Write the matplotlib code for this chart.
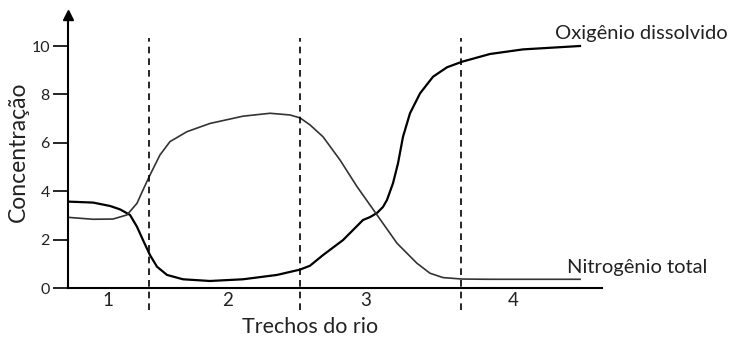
import matplotlib.pyplot as plt

plt.rcParams['font.family'] = ['Lato', 'DejaVu Sans']

# distance along the river (arbitrary units, 0 = start of reach 1)
oxi_x = [0, 25, 42, 52, 62, 69, 75, 82, 89, 99, 115, 142, 175, 209, 232, 242, 255, 275,
         295, 302, 309, 315, 319, 325, 330, 335, 342, 352, 365, 379, 394, 422, 455, 512]
oxi_y = [3.57, 3.53, 3.39, 3.25, 3.02, 2.53, 1.98, 1.36, 0.88, 0.54, 0.36, 0.29, 0.36, 0.54,
         0.76, 0.92, 1.36, 1.98, 2.81, 2.93, 3.1, 3.35, 3.64, 4.33, 5.15, 6.25, 7.22, 8.04,
         8.73, 9.12, 9.35, 9.67, 9.86, 10.0]

nit_x = [0, 25, 45, 59, 69, 75, 82, 92, 102, 119, 142, 175, 202, 222, 232, 242, 255, 272,
         289, 309, 329, 349, 362, 375, 394, 422, 512]
nit_y = [2.92, 2.84, 2.85, 3.02, 3.5, 4.05, 4.67, 5.5, 6.05, 6.46, 6.8, 7.1, 7.22, 7.15, 7.03,
         6.74, 6.25, 5.29, 4.19, 3.02, 1.85, 1.02, 0.61, 0.43, 0.37, 0.36, 0.36]

limites = [81, 232, 393]
trechos = ['1', '2', '3', '4']
trecho_x = [40, 160, 298, 445]
yticks = [0, 2, 4, 6, 8, 10]

fig = plt.figure(figsize=(7.31, 3.38), dpi=100)
ax = fig.add_axes([68 / 731, 50 / 338, 534 / 731, 273 / 338])
ax.set_xlim(0, 534)
ax.set_ylim(0, 273 / 24.2)

ax.plot(oxi_x, oxi_y, color='black', lw=1.6, solid_joinstyle='round')
ax.plot(nit_x, nit_y, color='#333333', lw=1.2, solid_joinstyle='round')

for xv in limites:
    ax.plot([xv, xv], [-0.91, 10.33], color='black', lw=1.2, ls=(0, (4, 3)), clip_on=False)

for s in ['top', 'right']:
    ax.spines[s].set_visible(False)
for s in ['left', 'bottom']:
    ax.spines[s].set_linewidth(1.5)

ax.set_yticks(yticks)
ax.set_yticklabels([str(v) for v in yticks], fontsize=11.5, color='#222222')
ax.tick_params(axis='y', length=11, width=1.2, pad=2)
ax.set_xticks([])

# arrow on top of the y axis
ax.plot([0], [1], marker='^', color='black', markersize=7, transform=ax.transAxes, clip_on=False)

for t, xv in zip(trechos, trecho_x):
    ax.text(xv, -0.5, t, ha='center', va='center', fontsize=13.5, color='#222222')

ax.text(242, -1.6, 'Trechos do rio', ha='center', va='center', fontsize=15.5, color='#222222', clip_on=False)
ax.set_ylabel('Concentração', fontsize=16.5, color='#222222', labelpad=2)

ax.text(487, 10.5, 'Oxigênio dissolvido', ha='left', va='center', fontsize=14.5, color='#222222', clip_on=False)
ax.text(499, 0.85, 'Nitrogênio total', ha='left', va='center', fontsize=14.5, color='#222222', clip_on=False)

fig.savefig('out.png', dpi=100)
